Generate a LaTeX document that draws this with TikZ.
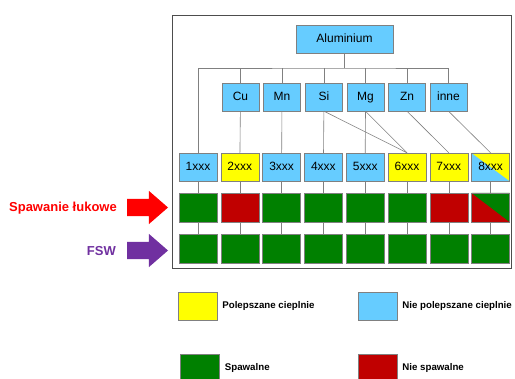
\documentclass[tikz,border=0pt]{standalone}
\usepackage{fontspec}
\setmainfont{Liberation Sans}
\usetikzlibrary{positioning, shapes.arrows}
\definecolor{alBlue}{RGB}{102,204,255}
\definecolor{alYellow}{RGB}{255,255,0}
\definecolor{alGreen}{RGB}{0,128,0}
\definecolor{alRed}{RGB}{192,0,0}
\definecolor{arcRed}{RGB}{255,0,0}
\definecolor{fswPurple}{RGB}{112,48,160}
\definecolor{alLine}{RGB}{128,128,128}

\begin{document}
\begin{tikzpicture}[x=1pt, y=-1pt,
    elem/.style={draw=alLine, fill=alBlue, minimum width=37pt, minimum height=28pt, inner sep=0pt, text height=8.6pt, text depth=2.4pt, font=\fontsize{12}{14}\selectfont},
    alloy/.style={elem, minimum width=38pt},
    hot/.style={fill=alYellow},
    weld/.style={draw=alLine, fill=alGreen, minimum width=38pt, minimum height=29pt, inner sep=0pt},
    nonweld/.style={weld, fill=alRed},
    halfsplit/.style={path picture={\fill[#1] (path picture bounding box.north west) -- (path picture bounding box.north east) -- (path picture bounding box.south east) -- cycle;}},
    link/.style={draw=alLine, line width=0.6pt},
    key/.style={draw=alLine, minimum width=39pt, minimum height=28pt, inner sep=0pt},
    keytext/.style={anchor=west, inner sep=0pt, font=\fontsize{9.7}{12}\selectfont\bfseries},
    bigarrow/.style={single arrow, single arrow head extend=8pt, inner xsep=0pt, inner ysep=8.5pt, minimum height=41pt, single arrow tip angle=82},
    side/.style={anchor=east, inner sep=0pt, font=\fontsize{13}{15}\selectfont\bfseries}
]
    \useasboundingbox (0,0) rectangle (515,379);
    \draw[draw=alLine!60!black, line width=0.8pt] (172,15) rectangle (511,268);

    % groups of alloying elements
    \node[elem, minimum width=97pt] (alu) at (344.5,39) {Aluminium};
    \node[elem] (cu) at (240.5,97) {Cu};
    \node[elem] (mn) at (282,97) {Mn};
    \node[elem] (si) at (324,97) {Si};
    \node[elem] (mg) at (365.5,97) {Mg};
    \node[elem] (zn) at (407,97) {Zn};
    \node[elem] (inne) at (448.5,97) {inne};

    % alloy series
    \node[alloy] (a1) at (198,167) {1xxx};
    \node[alloy, hot] (a2) at (239.8,167) {2xxx};
    \node[alloy] (a3) at (281.6,167) {3xxx};
    \node[alloy] (a4) at (323.4,167) {4xxx};
    \node[alloy] (a5) at (365.2,167) {5xxx};
    \node[alloy, hot] (a6) at (407,167) {6xxx};
    \node[alloy, hot] (a7) at (448.8,167) {7xxx};
    \node[alloy, halfsplit=alYellow] (a8) at (490.6,167) {8xxx};

    % arc welding
    \node[weld] (arc1) at (198,207.5) {};
    \node[nonweld] (arc2) at (239.8,207.5) {};
    \node[weld] (arc3) at (281.6,207.5) {};
    \node[weld] (arc4) at (323.4,207.5) {};
    \node[weld] (arc5) at (365.2,207.5) {};
    \node[weld] (arc6) at (407,207.5) {};
    \node[nonweld] (arc7) at (448.8,207.5) {};
    \node[nonweld, halfsplit=alGreen] (arc8) at (490.6,207.5) {};

    % friction stir welding
    \node[weld] (fsw1) at (198,249) {};
    \node[weld] (fsw2) at (239.8,249) {};
    \node[weld] (fsw3) at (281.6,249) {};
    \node[weld] (fsw4) at (323.4,249) {};
    \node[weld] (fsw5) at (365.2,249) {};
    \node[weld] (fsw6) at (407,249) {};
    \node[weld] (fsw7) at (448.8,249) {};
    \node[weld] (fsw8) at (490.6,249) {};

    \coordinate (bus) at (344.5,68);
    \draw[link] (alu) -- (bus);
    \draw[link] (a1.north) |- (bus) -| (inne.north);
    \draw[link] (cu.north) -- (cu.north |- bus);
    \draw[link] (mn.north) -- (mn.north |- bus);
    \draw[link] (si.north) -- (si.north |- bus);
    \draw[link] (mg.north) -- (mg.north |- bus);
    \draw[link] (zn.north) -- (zn.north |- bus);

    \draw[link] (cu) -- (a2);
    \draw[link] (mn) -- (a3);
    \draw[link] (si) -- (a4);
    \draw[link] (mg.south) -- (a5.north);
    \draw[link] (si.south) -- (a6.north);
    \draw[link] (mg.south) -- (a6.north);
    \draw[link] (zn.south) -- (a7.north);
    \draw[link] (inne.south) -- (a8.north);

    \draw[link] (a1) -- (arc1) (arc1) -- (fsw1);
    \draw[link] (a2) -- (arc2) (arc2) -- (fsw2);
    \draw[link] (a3) -- (arc3) (arc3) -- (fsw3);
    \draw[link] (a4) -- (arc4) (arc4) -- (fsw4);
    \draw[link] (a5) -- (arc5) (arc5) -- (fsw5);
    \draw[link] (a6) -- (arc6) (arc6) -- (fsw6);
    \draw[link] (a7) -- (arc7) (arc7) -- (fsw7);
    \draw[link] (a8) -- (arc8) (arc8) -- (fsw8);

    % welding methods
    \node[side, text=arcRed] (arclabel) at (117,208) {Spawanie łukowe};
    \node[bigarrow, fill=arcRed] (arcarrow) at (142.5,207.5) {};
    \node[side, text=fswPurple] (fswlabel) at (116,251) {FSW};
    \node[bigarrow, fill=fswPurple] (fswarrow) at (142.5,250.5) {};

    % legend
    \node[key, fill=alYellow] (keyhot) at (197.5,306) {};
    \node[keytext, right=5pt of keyhot] (keyhottext) {Polepszane cieplnie};
    \node[key, fill=alBlue] (keycold) at (377.5,306) {};
    \node[keytext, right=5pt of keycold] (keycoldtext) {Nie polepszane cieplnie};
    \node[key, fill=alGreen] (keyweld) at (200,368) {};
    \node[keytext, right=5pt of keyweld] (keyweldtext) {Spawalne};
    \node[key, fill=alRed] (keynon) at (377.5,368) {};
    \node[keytext, right=5pt of keynon] (keynontext) {Nie spawalne};
\end{tikzpicture}
\end{document}
